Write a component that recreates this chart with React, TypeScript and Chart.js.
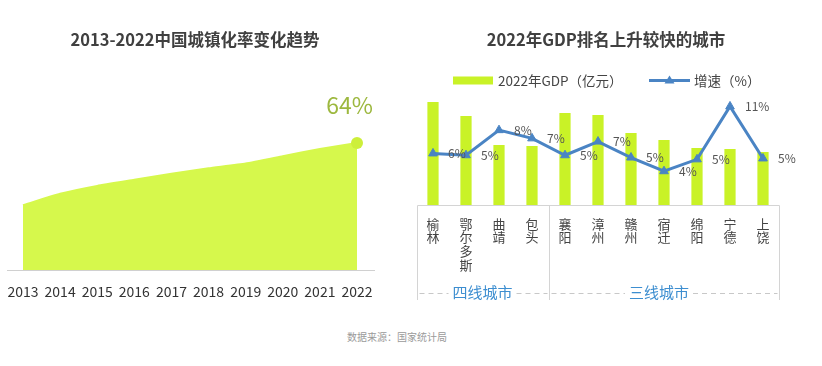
import React, { useEffect, useRef } from 'react';
import { Chart, registerables } from 'chart.js';

Chart.register(...registerables);

const FONT = '"Noto Sans CJK SC", "Noto Sans", sans-serif';

// Left chart data
const years = ['2013', '2014', '2015', '2016', '2017', '2018', '2019', '2020', '2021', '2022'];
const urbanRate = [53.7, 55.6, 56.9, 57.9, 58.9, 59.8, 60.6, 61.8, 63.0, 64.0];

// Right chart data
const cities = ['榆林', '鄂尔多斯', '曲靖', '包头', '襄阳', '漳州', '赣州', '宿迁', '绵阳', '宁德', '上饶'];
const gdp2022 = [6590, 5700, 3840, 3780, 5890, 5760, 4610, 4160, 3650, 3580, 3390];
const growth = [5.65, 5.45, 8.2, 7.3, 5.45, 6.95, 5.2, 3.7, 5.0, 10.8, 5.1];
const groupNames = ['四线城市', '三线城市'];
const groupStarts = [0, 4];

const legendGdp = '2022年GDP（亿元）';
const legendGrowth = '增速（%）';
const leftTitle = '2013-2022中国城镇化率变化趋势';
const rightTitle = '2022年GDP排名上升较快的城市';
const sourceNote = '数据来源：国家统计局';

const LIME_AREA = '#d6f84c';
const LIME_BAR = '#c9f227';
const BLUE = '#4a84c4';

function LeftChart() {
  const ref = useRef<HTMLCanvasElement | null>(null);
  useEffect(() => {
    const canvas = ref.current!;
    const plugin = {
      id: 'leftDeco',
      afterDatasetsDraw(chart: any) {
        const { ctx, chartArea } = chart;
        ctx.save();
        ctx.strokeStyle = '#d0d0d0';
        ctx.lineWidth = 1;
        ctx.beginPath();
        ctx.moveTo(7, Math.round(chartArea.bottom) + 0.5);
        ctx.lineTo(chartArea.right + 18, Math.round(chartArea.bottom) + 0.5);
        ctx.stroke();
        const meta = chart.getDatasetMeta(0);
        const lastIdx = meta.data.length - 1;
        const last = meta.data[lastIdx];
        ctx.fillStyle = '#9db83f';
        ctx.font = `23px ${FONT}`;
        ctx.textAlign = 'right';
        ctx.textBaseline = 'middle';
        ctx.fillText(Math.round(urbanRate[lastIdx]) + '%', last.x + 16, last.y - 38);
        ctx.restore();
      },
    };
    const chart = new Chart(canvas, {
      type: 'line',
      data: {
        labels: years,
        datasets: [
          {
            data: urbanRate,
            borderColor: LIME_AREA,
            backgroundColor: LIME_AREA,
            borderWidth: 2,
            fill: 'start',
            tension: 0.15,
            clip: false as any,
            pointRadius: (c: any) => (c.dataIndex === urbanRate.length - 1 ? 6 : 0),
            pointBackgroundColor: '#cdef3a',
            pointBorderWidth: 0,
          },
        ],
      },
      options: {
        responsive: false,
        animation: false,
        layout: { padding: { left: 23, right: 43, top: 100, bottom: 0 } },
        plugins: { legend: { display: false }, tooltip: { enabled: false }, title: { display: false } },
        scales: {
          x: {
            offset: false,
            grid: { display: false, drawTicks: false },
            border: { display: false },
            ticks: { color: '#333', font: { family: FONT, size: 14 }, padding: 13, maxRotation: 0, autoSkip: false },
            afterFit: (s: any) => {
              s.height = 40;
              s.paddingLeft = 0;
              s.paddingRight = 0;
            },
          },
          y: { display: false, min: 43, max: 71.1 },
        },
      },
      plugins: [plugin],
    });
    return () => chart.destroy();
  }, []);
  return <canvas ref={ref} width={400} height={310} style={{ position: 'absolute', left: 0, top: 0, width: 400, height: 310 }} />;
}

function RightChart() {
  const ref = useRef<HTMLCanvasElement | null>(null);
  useEffect(() => {
    const canvas = ref.current!;
    const plugin = {
      id: 'rightDeco',
      afterDatasetsDraw(chart: any) {
        const { ctx, chartArea } = chart;
        const xs = chart.scales.x;
        ctx.save();
        // frame
        const top = Math.round(chartArea.bottom) + 0.5;
        const bottom = 300;
        const left = Math.round(chartArea.left) + 0.5;
        const right = Math.round(chartArea.right) - 0.5;
        ctx.strokeStyle = '#d4d4d4';
        ctx.lineWidth = 1;
        ctx.setLineDash([]);
        ctx.beginPath();
        ctx.moveTo(left, top);
        ctx.lineTo(right, top);
        ctx.stroke();
        const bounds: number[] = [left];
        for (let g = 1; g < groupStarts.length; g++) {
          const b = (xs.getPixelForValue(groupStarts[g] - 1) + xs.getPixelForValue(groupStarts[g])) / 2;
          bounds.push(Math.round(b) + 0.5);
        }
        bounds.push(right);
        ctx.beginPath();
        for (const b of bounds) {
          ctx.moveTo(b, top);
          ctx.lineTo(b, bottom);
        }
        ctx.stroke();
        // group labels + dashed line
        const dashY = 293.5;
        ctx.font = `15px ${FONT}`;
        ctx.textAlign = 'center';
        ctx.textBaseline = 'middle';
        for (let g = 0; g < groupNames.length; g++) {
          const startIdx = groupStarts[g];
          const endIdx = g + 1 < groupStarts.length ? groupStarts[g + 1] - 1 : cities.length - 1;
          const cx = (xs.getPixelForValue(startIdx) + xs.getPixelForValue(endIdx)) / 2 - (g === 1 ? 5 : 0);
          const tw = ctx.measureText(groupNames[g]).width;
          ctx.strokeStyle = '#c8c8c8';
          ctx.setLineDash([5, 4]);
          ctx.beginPath();
          ctx.moveTo(bounds[g] + 2, dashY);
          ctx.lineTo(cx - tw / 2 - 4, dashY);
          ctx.moveTo(cx + tw / 2 + 4, dashY);
          ctx.lineTo(bounds[g + 1] - 2, dashY);
          ctx.stroke();
          ctx.setLineDash([]);
          ctx.fillStyle = '#3d8ed0';
          ctx.fillText(groupNames[g], cx, 292);
        }
        // data labels for growth
        const meta = chart.getDatasetMeta(1);
        ctx.font = `12px ${FONT}`;
        ctx.fillStyle = '#555';
        ctx.textAlign = 'left';
        meta.data.forEach((p: any, i: number) => {
          ctx.fillText(Math.round(growth[i]) + '%', p.x + 15, p.y);
        });
        // legend
        const ly = 80.5;
        ctx.fillStyle = LIME_BAR;
        ctx.fillRect(53, ly - 4, 40, 8);
        ctx.font = `13.5px ${FONT}`;
        ctx.fillStyle = '#444';
        ctx.textBaseline = 'middle';
        ctx.fillText(legendGdp, 98, ly);
        ctx.strokeStyle = BLUE;
        ctx.lineWidth = 3;
        ctx.beginPath();
        ctx.moveTo(249, ly);
        ctx.lineTo(290, ly);
        ctx.stroke();
        ctx.fillStyle = BLUE;
        ctx.beginPath();
        ctx.moveTo(269.5, ly - 5);
        ctx.lineTo(274.5, ly + 3);
        ctx.lineTo(264.5, ly + 3);
        ctx.closePath();
        ctx.fill();
        ctx.fillStyle = '#444';
        ctx.fillText(legendGrowth, 294, ly);
        ctx.restore();
      },
    };
    const chart = new Chart(canvas, {
      type: 'bar',
      data: {
        labels: cities,
        datasets: [
          {
            type: 'bar',
            label: legendGdp,
            data: gdp2022,
            backgroundColor: LIME_BAR,
            barPercentage: 0.34,
            categoryPercentage: 1,
            yAxisID: 'y',
            order: 2,
          },
          {
            type: 'line',
            label: legendGrowth,
            data: growth,
            borderColor: BLUE,
            backgroundColor: BLUE,
            borderWidth: 3,
            pointStyle: 'triangle',
            pointRadius: 5,
            pointBackgroundColor: BLUE,
            pointBorderColor: BLUE,
            pointBorderWidth: 1,
            tension: 0,
            yAxisID: 'y1',
            order: 1,
            clip: false as any,
          } as any,
        ],
      },
      options: {
        responsive: false,
        animation: false,
        layout: { padding: { left: 16.5, right: 42.5, top: 95, bottom: 0 } },
        plugins: { legend: { display: false }, tooltip: { enabled: false }, title: { display: false } },
        scales: {
          x: {
            grid: { display: false, drawTicks: false },
            border: { display: false },
            ticks: {
              color: '#444',
              font: { family: FONT, size: 13, lineHeight: 1.05 },
              padding: 12,
              maxRotation: 0,
              autoSkip: false,
              callback: (_v: any, i: number) => cities[i].split(''),
            },
            afterFit: (s: any) => { s.height = 105; },
          },
          y: { display: false, min: 0, max: 7040 },
          y1: { display: false, min: 0, max: 12.05, position: 'right' },
        },
      },
      plugins: [plugin],
    });
    return () => chart.destroy();
  }, []);
  return <canvas ref={ref} width={422} height={310} style={{ position: 'absolute', left: 400, top: 0, width: 422, height: 310 }} />;
}

export default function App() {
  const titleStyle: React.CSSProperties = {
    position: 'absolute',
    top: 29,
    fontFamily: FONT,
    fontWeight: 700,
    fontSize: 16.5,
    lineHeight: '20px',
    color: '#404040',
    whiteSpace: 'nowrap',
    transform: 'translateX(-50%)',
  };
  return (
    <div style={{ position: 'fixed', left: 0, top: 0, width: 822, height: 366, background: '#fff', overflow: 'hidden' }}>
      <LeftChart />
      <RightChart />
      <div style={{ ...titleStyle, left: 195 }}>{leftTitle}</div>
      <div style={{ ...titleStyle, left: 606 }}>{rightTitle}</div>
      <div
        style={{
          position: 'absolute',
          left: 397,
          top: 331,
          transform: 'translateX(-50%)',
          fontFamily: FONT,
          fontSize: 10,
          lineHeight: '12px',
          color: '#9a9a9a',
          whiteSpace: 'nowrap',
        }}
      >
        {sourceNote}
      </div>
    </div>
  );
}
